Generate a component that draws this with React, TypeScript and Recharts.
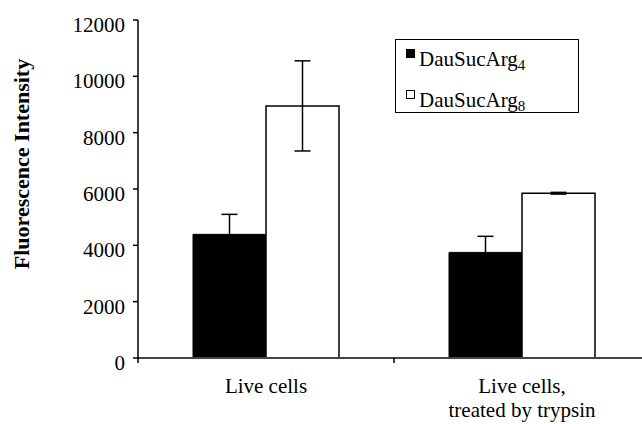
import { BarChart, Bar, XAxis, YAxis, ErrorBar, Legend } from "recharts"

const FONT = "'Liberation Serif', 'Noto Serif', 'DejaVu Serif', Tinos, FreeSerif, 'Times New Roman', Times, serif"

const categories = ["Live cells", "Live cells,\ntreated by trypsin"]
const dau4 = [4390, 3750]
const dau4Err = [710, 570]
const dau8 = [8950, 5850]
const dau8Err = [1600, 30]
const yTicks = [0, 2000, 4000, 6000, 8000, 10000, 12000]
const seriesBase = "DauSucArg"
const seriesSub = ["4", "8"]
const seriesFill = ["#000000", "#ffffff"]

const data = categories.map((c, i) => ({
    name: c,
    dau4: dau4[i],
    dau4Err: dau4Err[i],
    dau8: dau8[i],
    dau8Err: dau8Err[i],
}))

// category labels, with the little tick on the band edge like Excel draws it
const XTick = (props: any) => {
    const { x, y, payload } = props
    const lines = String(payload.value).split("\n")
    const half = payload.offset || 0
    return (
        <g>
            <line x1={x - half} x2={x - half} y1={y} y2={y + 5} stroke="#000" strokeWidth={1.5} />
            {lines.map((l, i) => (
                <text key={i} x={x} y={y + 35 + i * 24} textAnchor="middle" style={{ fontFamily: FONT }} fontSize={21} fill="#000">
                    {l}
                </text>
            ))}
        </g>
    )
}

const YTick = (props: any) => {
    const { x, y, payload } = props
    return (
        <text x={x} y={y + 12} textAnchor="end" style={{ fontFamily: FONT }} fontSize={21} fill="#000">
            {payload.value}
        </text>
    )
}

const LegendBox = () => (
    <div
        style={{
            width: 184,
            height: 74,
            border: "1.5px solid #000",
            boxSizing: "border-box",
            background: "#fff",
            fontFamily: FONT,
            fontSize: 21,
            color: "#000",
            position: "relative",
        }}
    >
        {seriesSub.map((s, i) => (
            <div key={s} style={{ position: "absolute", left: 10, top: 6 + i * 41, height: 26, lineHeight: "26px", whiteSpace: "nowrap" }}>
                <span
                    style={{
                        display: "inline-block",
                        width: 7,
                        height: 7,
                        background: seriesFill[i],
                        border: "1px solid #000",
                        verticalAlign: "top",
                        marginTop: 3,
                        marginRight: 4,
                    }}
                />
                {seriesBase}
                <sub style={{ fontSize: 15, verticalAlign: "-4px", lineHeight: 0 }}>{s}</sub>
            </div>
        ))}
    </div>
)

export default function App() {
    return (
        <div style={{ position: "absolute", left: 0, top: 0, width: 642, height: 424, overflow: "hidden", background: "#fff", fontFamily: FONT }}>
            <BarChart
                width={660}
                height={424}
                data={data}
                margin={{ top: 20, right: 10, bottom: 0, left: 0 }}
                barGap={0}
                style={{ fontFamily: FONT }}
            >
                <XAxis
                    dataKey="name"
                    interval={0}
                    tickLine={false}
                    tickSize={0}
                    tickMargin={0}
                    height={66}
                    tick={<XTick />}
                    axisLine={{ stroke: "#444", strokeWidth: 2 }}
                />
                <YAxis
                    width={138}
                    domain={[0, 12000]}
                    ticks={yTicks}
                    interval={0}
                    tickSize={5}
                    tickMargin={8}
                    tick={<YTick />}
                    tickLine={{ stroke: "#000", strokeWidth: 1.5 }}
                    axisLine={{ stroke: "#000", strokeWidth: 1.5 }}
                    label={{
                        content: () => (
                            <text
                                x={29}
                                y={164}
                                transform="rotate(-90, 29, 164)"
                                textAnchor="middle"
                                style={{ fontFamily: FONT }}
                                fontSize={22}
                                fontWeight="bold"
                                fill="#000"
                            >
                                Fluorescence Intensity
                            </text>
                        ),
                    }}
                />
                <Legend
                    layout="vertical"
                    align="center"
                    verticalAlign="middle"
                    wrapperStyle={{ left: 395, top: 39, width: 184, height: 74 }}
                    content={<LegendBox />}
                />
                <Bar dataKey="dau4" name="DauSucArg4" fill="#000" stroke="#000" strokeWidth={1} barSize={73} isAnimationActive={false}>
                    <ErrorBar dataKey="dau4Err" width={8} stroke="#000" strokeWidth={1.5} direction="y" />
                </Bar>
                <Bar dataKey="dau8" name="DauSucArg8" fill="#fff" stroke="#000" strokeWidth={1.5} barSize={73} isAnimationActive={false}>
                    <ErrorBar dataKey="dau8Err" width={8} stroke="#000" strokeWidth={1.5} direction="y" />
                </Bar>
            </BarChart>
        </div>
    )
}
